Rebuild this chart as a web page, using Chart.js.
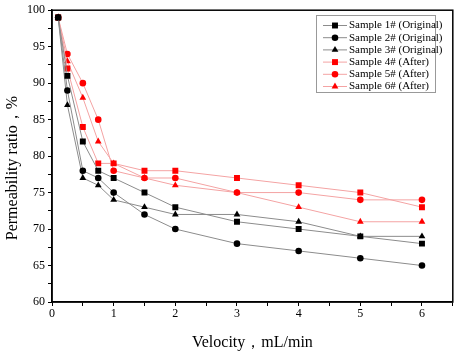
<!DOCTYPE html>
<html>
<head>
<meta charset="utf-8">
<script src="https://cdn.jsdelivr.net/npm/chart.js@4.4.1/dist/chart.umd.min.js"></script>
<style>
  html, body { margin: 0; padding: 0; background: #fff; }
  #wrap { width: 457px; height: 353px; }
</style>
</head>
<body>
<div id="wrap"><canvas id="myChart" width="457" height="353"></canvas></div>
<script>
// velocity, mL/min
const velocity = [0.1, 0.25, 0.5, 0.75, 1, 1.5, 2, 3, 4, 5, 6];
// permeability ratio, %
const sample1 = [99, 91, 82, 78, 77, 75, 73, 71, 70, 69, 68];
const sample2 = [99, 89, 78, 77, 75, 72, 70, 68, 67, 66, 65];
const sample3 = [99, 87, 77, 76, 74, 73, 72, 72, 71, 69, 69];
const sample4 = [99, 92, 84, 79, 79, 78, 78, 77, 76, 75, 73];
const sample5 = [99, 94, 90, 85, 78, 77, 77, 75, 75, 74, 74];
const sample6 = [99, 93, 88, 82, 79, 77, 76, 75, 73, 71, 71];
const seriesNames = ['Sample 1# (Original)', 'Sample 2# (Original)', 'Sample 3# (Original)',
                     'Sample 4# (After)', 'Sample 5# (After)', 'Sample 6# (After)'];
const xTickLabels = [0, 1, 2, 3, 4, 5, 6];
const yTickLabels = [60, 65, 70, 75, 80, 85, 90, 95, 100];

const serif = 'Liberation Serif';

function makeSet(name, values, style, dark) {
    return {
        label: name,
        data: velocity.map(function (v, i) { return { x: v, y: values[i] }; }),
        borderColor: dark ? '#8c8c8c' : '#f4a3a3',
        borderWidth: 1,
        backgroundColor: dark ? '#000' : '#ff0000',
        pointBackgroundColor: dark ? '#000' : '#ff0000',
        pointBorderWidth: 0,
        pointStyle: style,
        pointRadius: style === 'rect' ? 4.2 : (style === 'circle' ? 3.3 : 3.9),
        tension: 0
    };
}

// frame, y title and the boxed legend
const extras = {
    id: 'extras',
    afterDraw: function (chart) {
        const ctx = chart.ctx;
        const a = chart.chartArea;
        ctx.save();
        ctx.strokeStyle = '#000';
        ctx.lineWidth = 1.5;
        ctx.strokeRect(a.left, a.top, a.right - a.left, a.bottom - a.top);

        // y axis title
        ctx.translate(13, 168);
        ctx.rotate(-Math.PI / 2);
        ctx.fillStyle = '#000';
        ctx.font = '16px "' + serif + '"';
        ctx.textAlign = 'center';
        ctx.textBaseline = 'middle';
        ctx.fillText('Permeability ratio，%', 0, 0);
        ctx.restore();

        // legend
        ctx.save();
        ctx.strokeStyle = '#999';
        ctx.lineWidth = 1;
        ctx.strokeRect(316.5, 15.5, 119, 77);
        ctx.font = '11px "' + serif + '"';
        ctx.textBaseline = 'middle';
        chart.data.datasets.forEach(function (ds, i) {
            const y = 25.5 + i * 12.2;
            ctx.strokeStyle = ds.borderColor;
            ctx.beginPath();
            ctx.moveTo(323, y);
            ctx.lineTo(347, y);
            ctx.stroke();
            ctx.fillStyle = ds.pointBackgroundColor;
            Chart.helpers.drawPoint(ctx, { pointStyle: ds.pointStyle, radius: ds.pointRadius, rotation: 0, borderWidth: 0 }, 335, y);
            ctx.fillStyle = '#000';
            ctx.fillText(ds.label, 349, y);
        });
        ctx.restore();
    }
};

document.addEventListener('DOMContentLoaded', function () {
    const ctx = document.getElementById('myChart');

    new Chart(ctx, {
        type: 'line',
        data: {
            datasets: [
                makeSet(seriesNames[0], sample1, 'rect', true),
                makeSet(seriesNames[1], sample2, 'circle', true),
                makeSet(seriesNames[2], sample3, 'triangle', true),
                makeSet(seriesNames[3], sample4, 'rect', false),
                makeSet(seriesNames[4], sample5, 'circle', false),
                makeSet(seriesNames[5], sample6, 'triangle', false)
            ]
        },
        options: {
            responsive: false,
            animation: false,
            layout: { padding: { top: 7, right: 3, left: 0, bottom: 0 } },
            plugins: {
                legend: { display: false },
                tooltip: { enabled: false }
            },
            scales: {
                x: {
                    type: 'linear',
                    min: 0,
                    max: 6.5,
                    afterFit: function (scale) { scale.height = 51; },
                    border: { display: true, color: '#000', width: 1.5 },
                    grid: { drawOnChartArea: false, drawTicks: true, tickLength: 4, color: '#000' },
                    ticks: {
                        stepSize: 0.5,
                        autoSkip: false,
                        maxRotation: 0,
                        padding: 1,
                        color: '#000',
                        font: { family: serif, size: 12 },
                        callback: function (v) { return xTickLabels.indexOf(v) >= 0 ? String(v) : ''; }
                    },
                    title: {
                        display: true,
                        text: 'Velocity，mL/min',
                        color: '#000',
                        font: { family: serif, size: 16 },
                        padding: { top: 0, bottom: 1 }
                    }
                },
                y: {
                    min: 60,
                    max: 100,
                    afterFit: function (scale) { scale.width = 52; },
                    border: { display: true, color: '#000', width: 1.5 },
                    grid: { drawOnChartArea: false, drawTicks: true, tickLength: 4, color: '#000' },
                    ticks: {
                        stepSize: 2.5,
                        autoSkip: false,
                        padding: 3,
                        color: '#000',
                        font: { family: serif, size: 12 },
                        callback: function (v) { return yTickLabels.indexOf(v) >= 0 ? String(v) : ''; }
                    }
                }
            }
        },
        plugins: [extras]
    });
});
</script>
</body>
</html>
